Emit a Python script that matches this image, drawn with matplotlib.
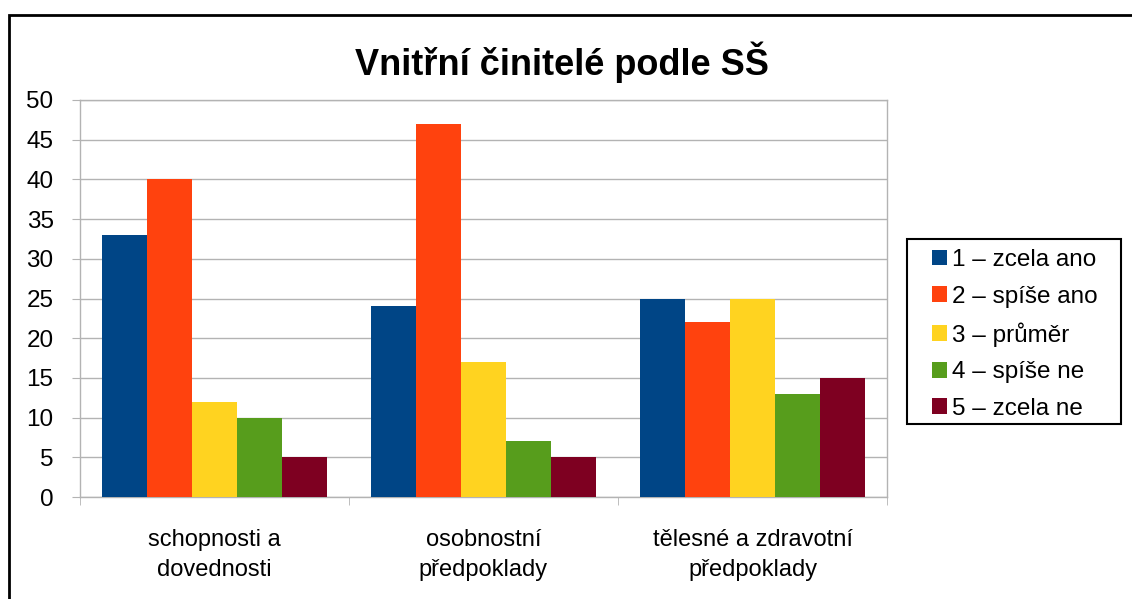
import numpy as np
import matplotlib.pyplot as plt
from matplotlib.patches import Rectangle

plt.rcParams['font.family'] = ['Liberation Sans', 'DejaVu Sans']

# data
categories = ["schopnosti a\ndovednosti", "osobnostní\npředpoklady", "tělesné a zdravotní\npředpoklady"]
series = ["1 – zcela ano", "2 – spíše ano", "3 – průměr", "4 – spíše ne", "5 – zcela ne"]
values = [
    [33, 24, 25],
    [40, 47, 22],
    [12, 17, 25],
    [10, 7, 13],
    [5, 5, 15],
]
colors = ["#004586", "#ff420e", "#ffd320", "#579d1c", "#7e0021"]
yticks = [0, 5, 10, 15, 20, 25, 30, 35, 40, 45, 50]

W, H = 1132, 599
fig = plt.figure(figsize=(W / 100, H / 100), dpi=100)
ax = fig.add_axes([80 / W, 1 - 497 / H, (887 - 80) / W, (497 - 100) / H])

x = np.arange(len(categories))
w = 45 / 269
for j, (name, vals) in enumerate(zip(series, values)):
    ax.bar(x + (j - 2) * w, vals, width=w, color=colors[j], label=name, zorder=3)

ax.set_xlim(-0.5, 2.5)
ax.set_ylim(0, 50)
ax.set_yticks(yticks)
ax.grid(axis='y', color='#b3b3b3', linewidth=1, zorder=0)
for s in ax.spines.values():
    s.set_color('#b3b3b3')
    s.set_linewidth(1)

ax.set_xticks(x)
ax.set_xticklabels(categories, fontsize=17, linespacing=1.45)
ax.tick_params(axis='x', which='major', length=0, pad=23)
ax.set_xticks([-0.5, 0.5, 1.5, 2.5], minor=True)
ax.tick_params(axis='x', which='minor', length=6, color='#b3b3b3', direction='out')
ax.tick_params(axis='y', length=6, color='#b3b3b3', labelsize=17.5, pad=13)

fig.text(562 / W, 1 - 62 / H, "Vnitřní činitelé podle SŠ", fontsize=26, fontweight='bold',
         ha='center', va='center')

# legend box drawn separately, entries placed inside
fig.patches.append(Rectangle((907 / W, 1 - 424 / H), (1121 - 907) / W, (424 - 239) / H,
                             transform=fig.transFigure, fill=False, edgecolor='black',
                             linewidth=1.5))
fig.legend(loc='upper left', bbox_to_anchor=(932 / W, 1 - 249 / H), fontsize=17.5,
           handlelength=0.62, handleheight=0.62, handletextpad=0.2, labelspacing=0.6,
           borderpad=0, borderaxespad=0, frameon=False)

# outer frame
fig.patches.append(Rectangle((9 / W, -0.1), 1.2, 1 - 15 / H + 0.1, transform=fig.transFigure,
                             fill=False, edgecolor='black', linewidth=2, clip_on=False))

fig.savefig("out.png", dpi=100)
